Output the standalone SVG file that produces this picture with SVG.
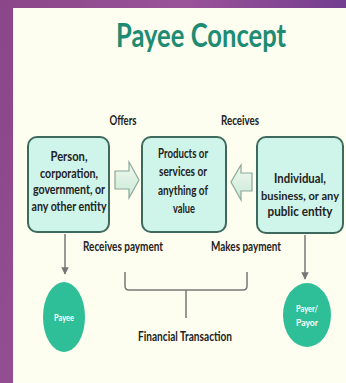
<svg xmlns="http://www.w3.org/2000/svg" width="346" height="383" viewBox="0 0 346 383">
<defs>
<linearGradient id="bg" x1="0" y1="0" x2="1" y2="0.3">
<stop offset="0" stop-color="#8a4688"/>
<stop offset="0.5" stop-color="#9a5298"/>
<stop offset="1" stop-color="#6c3a8e"/>
</linearGradient>
<linearGradient id="arr" x1="0" y1="0" x2="0" y2="1">
<stop offset="0" stop-color="#f0f9ef"/>
<stop offset="1" stop-color="#c9e9d6"/>
</linearGradient>
<marker id="ah" viewBox="0 0 10 10" refX="9" refY="5" markerWidth="5" markerHeight="5" orient="auto">
<path d="M0,0 L10,5 L0,10 z" fill="#777"/>
</marker>
</defs>
<style>
.box{fill:#cff4ea;stroke:#3d6a5c;stroke-width:2}
.t{font-family:Lato,"Liberation Sans",sans-serif;font-weight:bold;fill:#222;text-anchor:middle;font-size:12.5px}
.w{font-family:Lato,"Liberation Sans",sans-serif;font-weight:bold;fill:#ffffff;text-anchor:middle;font-size:9.5px}
.blk{fill:url(#arr);stroke:#8aa898;stroke-width:1.2}
.ln{fill:none;stroke:#777;stroke-width:1.5}
.ell{fill:#2fbf98}
</style>
<rect x="0" y="0" width="346" height="383" fill="url(#bg)"/>
<rect x="13" y="8" width="333" height="375" fill="#fdfdf0"/>
<text x="201" y="47" font-family="Lato,'Liberation Sans',sans-serif" font-weight="bold" font-size="33" fill="#1e8c72" text-anchor="middle" textLength="170" lengthAdjust="spacingAndGlyphs">Payee Concept</text>
<g id="connectors">
<polygon class="blk" points="115,171 129,171 129,162 139,180 129,198 129,189 115,189"/>
<polygon class="blk" points="252,173 241,173 241,165 231,182 241,200 241,191 252,191"/>
<line class="ln" x1="65" y1="234" x2="65" y2="274" marker-end="url(#ah)"/>
<line class="ln" x1="305" y1="235" x2="305" y2="279" marker-end="url(#ah)"/>
<path class="ln" d="M125,272 V286 Q125,290 129,290 H243 Q247,290 247,286 V272 M186,290 V318"/>
<text class="t" x="123" y="125" textLength="27" lengthAdjust="spacingAndGlyphs">Offers</text>
<text class="t" x="240" y="125" textLength="38" lengthAdjust="spacingAndGlyphs">Receives</text>
<text class="t" x="123" y="251" textLength="80" lengthAdjust="spacingAndGlyphs">Receives payment</text>
<text class="t" x="246" y="251" textLength="70" lengthAdjust="spacingAndGlyphs">Makes payment</text>
<text class="t" x="185" y="341" textLength="94" lengthAdjust="spacingAndGlyphs">Financial Transaction</text>
</g>
<g id="node-person">
<rect class="box" x="28" y="137" width="81" height="95" rx="9"/>
<text class="t" x="69" y="161" textLength="37" lengthAdjust="spacingAndGlyphs">Person,</text>
<text class="t" x="69" y="178" textLength="58" lengthAdjust="spacingAndGlyphs">corporation,</text>
<text class="t" x="69" y="194" textLength="72" lengthAdjust="spacingAndGlyphs">government, or</text>
<text class="t" x="69" y="211" textLength="75" lengthAdjust="spacingAndGlyphs">any other entity</text>
</g>
<g id="node-products">
<rect class="box" x="142" y="137" width="84" height="95" rx="9"/>
<text class="t" x="183" y="158" textLength="50" lengthAdjust="spacingAndGlyphs">Products or</text>
<text class="t" x="183" y="176" textLength="48" lengthAdjust="spacingAndGlyphs">services or</text>
<text class="t" x="183" y="195" textLength="50" lengthAdjust="spacingAndGlyphs">anything of</text>
<text class="t" x="184" y="213" textLength="22" lengthAdjust="spacingAndGlyphs">value</text>
</g>
<g id="node-individual">
<rect class="box" x="257" y="137" width="86" height="96" rx="9"/>
<text class="t" x="300" y="183" textLength="52" lengthAdjust="spacingAndGlyphs">Individual,</text>
<text class="t" x="300" y="200" font-size="11.5" style="font-size:11.5px" textLength="78" lengthAdjust="spacingAndGlyphs">business, or any</text>
<text class="t" x="300" y="216" textLength="65" lengthAdjust="spacingAndGlyphs">public entity</text>
</g>
<g id="node-payee">
<ellipse class="ell" cx="64" cy="317" rx="21" ry="35"/>
<text class="w" x="64" y="321" textLength="20" lengthAdjust="spacingAndGlyphs">Payee</text>
</g>
<g id="node-payer">
<ellipse class="ell" cx="307" cy="315" rx="24" ry="32"/>
<text class="w" x="307" y="312" textLength="22" lengthAdjust="spacingAndGlyphs">Payer/</text>
<text class="w" x="307" y="326" textLength="22" lengthAdjust="spacingAndGlyphs">Payor</text>
</g>
</svg>
